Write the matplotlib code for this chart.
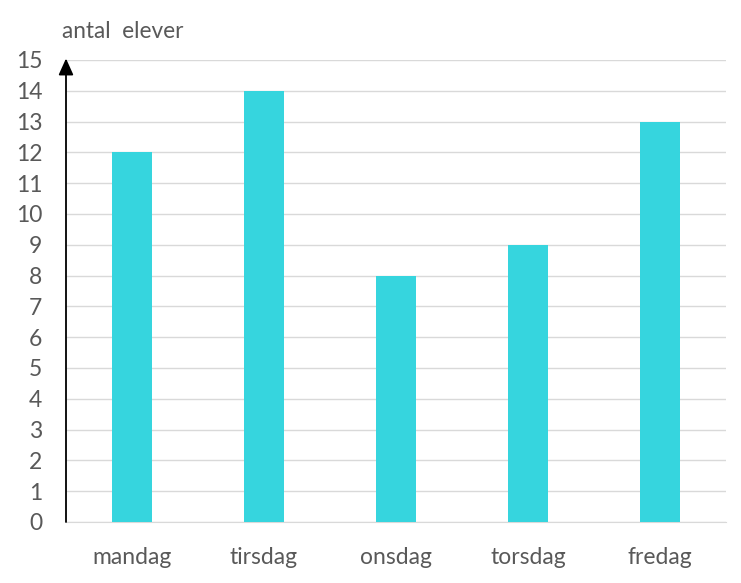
import matplotlib
matplotlib.use("Agg")
import matplotlib.pyplot as plt

categories = ["mandag", "tirsdag", "onsdag", "torsdag", "fredag"]
values = [12, 14, 8, 9, 13]
yticks = list(range(0, 16))

plt.rcParams['font.family'] = ['Lato', 'DejaVu Sans']

fig = plt.figure(figsize=(7.41, 5.83), dpi=100)
ax = fig.add_axes([66/741, 61/583, 660/741, 462/583])

x = list(range(len(categories)))
ax.bar(x, values, width=0.3, color="#36D5DE", zorder=3)
ax.set_xlim(-0.5, len(categories) - 0.5)
ax.set_ylim(0, 15)
ax.set_yticks(yticks)
ax.set_yticklabels([str(t) for t in yticks], fontsize=16.5, color="#595959")
ax.set_xticks(x)
ax.set_xticklabels(categories, fontsize=16.5, color="#595959")
ax.tick_params(axis='both', length=0)
ax.tick_params(axis='y', pad=17)
ax.tick_params(axis='x', pad=18)
ax.grid(axis='y', color="#d9d9d9", linewidth=1, zorder=0)
for s in ['top', 'right', 'left']:
    ax.spines[s].set_visible(False)
ax.spines['bottom'].set_color("#d9d9d9")

ax.annotate("", xy=(-0.5, 15.05), xytext=(-0.5, 0), xycoords='data',
            arrowprops=dict(arrowstyle="-|>,head_length=1.0,head_width=0.45",
                            color="black", lw=1.3, shrinkA=0, shrinkB=0),
            annotation_clip=False, zorder=5)

fig.text(62/741, 1 - 32/583, "antal  elever", fontsize=16.3, color="#595959",
         ha='left', va='center')

fig.savefig("out.png", dpi=100)
